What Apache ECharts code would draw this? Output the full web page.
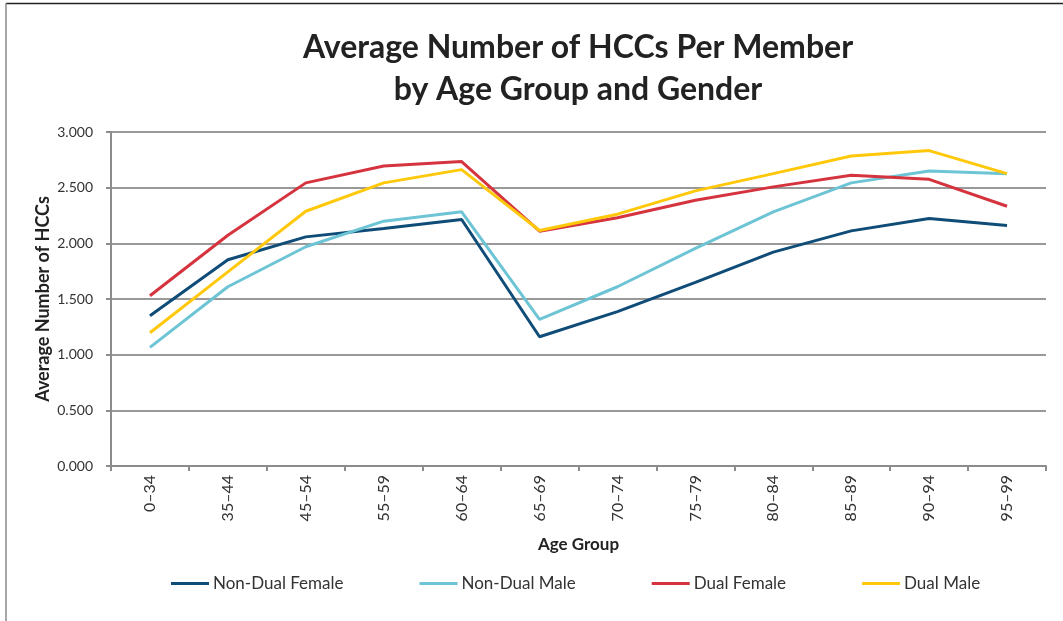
<!DOCTYPE html>
<html>
<head>
<meta charset="utf-8">
<script src="https://cdn.jsdelivr.net/npm/echarts@6/dist/echarts.min.js"></script>
<style>
  html, body { margin: 0; padding: 0; background: #fff; }
  #chart { width: 1063px; height: 621px; }
</style>
</head>
<body>
<div id="chart"></div>
<script>
const categories = ['0–34', '35–44', '45–54', '55–59', '60–64', '65–69', '70–74', '75–79', '80–84', '85–89', '90–94', '95–99'];
const nonDualFemale = [1.350, 1.852, 2.058, 2.133, 2.214, 1.161, 1.386, 1.649, 1.921, 2.112, 2.223, 2.160];
const nonDualMale   = [1.066, 1.610, 1.969, 2.199, 2.283, 1.317, 1.610, 1.954, 2.283, 2.543, 2.650, 2.626];
const dualFemale    = [1.529, 2.073, 2.543, 2.695, 2.734, 2.109, 2.229, 2.387, 2.507, 2.611, 2.575, 2.333];
const dualMale      = [1.197, 1.744, 2.288, 2.543, 2.662, 2.115, 2.262, 2.471, 2.626, 2.785, 2.833, 2.626];
const seriesNames = ['Non-Dual Female', 'Non-Dual Male', 'Dual Female', 'Dual Male'];
const seriesColors = ['#0F4C78', '#6DC4D5', '#D5343F', '#FFC80B'];
const seriesData = [nonDualFemale, nonDualMale, dualFemale, dualMale];

const FONT = 'Lato';
const chart = echarts.init(document.getElementById('chart'), null, { renderer: 'canvas' });
chart.setOption({
  animation: false,
  backgroundColor: '#ffffff',
  title: {
    text: 'Average Number of HCCs Per Member\nby Age Group and Gender',
    left: 578, textAlign: 'center', top: 27, padding: 0,
    textStyle: { fontFamily: FONT, fontWeight: 'bold', fontSize: 32, lineHeight: 42, color: '#222222' }
  },
  graphic: [
    { type: 'line', shape: { x1: 6, y1: 3.5, x2: 1063, y2: 3.5 }, style: { stroke: '#222222', lineWidth: 1.5 } },
    { type: 'line', shape: { x1: 6, y1: 3, x2: 6, y2: 621 }, style: { stroke: '#8a8a8a', lineWidth: 1.5 } }
  ],
  legend: {
    data: seriesNames,
    bottom: 29, left: 171, padding: 0,
    itemWidth: 38, itemHeight: 3, itemGap: 76,
    icon: 'rect',
    textStyle: { fontFamily: FONT, fontSize: 17, color: '#333333', padding: [0, 0, 0, -1] }
  },
  grid: { left: 111, right: 17, top: 132, bottom: 155, containLabel: false },
  xAxis: {
    type: 'category', data: categories, boundaryGap: true,
    name: 'Age Group', nameLocation: 'middle', nameGap: 70,
    nameTextStyle: { fontFamily: FONT, fontWeight: 'bold', fontSize: 17, color: '#222222' },
    axisLine: { lineStyle: { color: '#8c8c8c', width: 2 } },
    axisTick: { show: true, alignWithLabel: false, length: 5, lineStyle: { color: '#8c8c8c', width: 2 } },
    axisLabel: { rotate: 90, margin: 9, fontFamily: FONT, fontSize: 16, color: '#333333', interval: 0 }
  },
  yAxis: {
    type: 'value', min: 0, max: 3, interval: 0.5,
    name: 'Average Number of HCCs', nameLocation: 'middle', nameGap: 59, nameMoveOverlap: false,
    nameTextStyle: { fontFamily: FONT, fontWeight: 'bold', fontSize: 18, color: '#222222' },
    axisLine: { show: true, lineStyle: { color: '#8c8c8c', width: 2 } },
    axisTick: { show: true, length: 5, lineStyle: { color: '#8c8c8c', width: 2 } },
    splitLine: { show: true, lineStyle: { color: '#999999', width: 2 } },
    axisLabel: { margin: 18, fontFamily: FONT, fontSize: 14, color: '#333333', formatter: v => v.toFixed(3) }
  },
  series: seriesData.map((d, i) => ({
    name: seriesNames[i], type: 'line', data: d,
    symbol: 'none', smooth: false,
    lineStyle: { color: seriesColors[i], width: 3 },
    itemStyle: { color: seriesColors[i] }
  }))
});
</script>
</body>
</html>
